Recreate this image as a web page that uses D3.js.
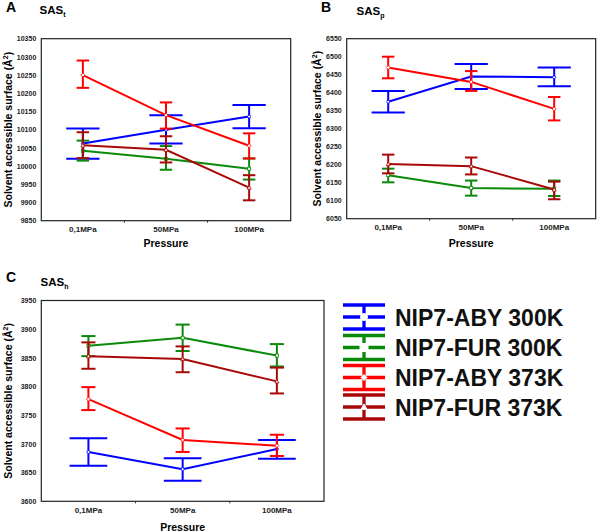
<!DOCTYPE html>
<html>
<head>
<meta charset="utf-8">
<script src="https://cdn.jsdelivr.net/npm/d3@7"></script>
<style>
  body { margin: 0; background: #fff; }
  svg { display: block; font-family: "Liberation Sans", Arial, sans-serif; }
</style>
</head>
<body>
<div id="chart"></div>
<script>
// categories and series
var pressures = ["0,1MPa", "50MPa", "100MPa"];
var seriesNames = ["NIP7-ABY 300K", "NIP7-FUR 300K", "NIP7-ABY 373K", "NIP7-FUR 373K"];
var seriesColors = ["#0000ff", "#0a8a0a", "#ff0000", "#a80808"];
var seriesMarkers = ["circle", "square", "diamond", "triangle"];

// panel A: SASt (mean, upper, lower), one row per series
var sasT_mean = [[10062, 10100, 10136], [10042, 10020, 9993], [10250, 10140, 10056], [10057, 10045, 9941]];
var sasT_hi   = [[10103, 10140, 10168], [10070, 10055, 10021], [10290, 10175, 10090], [10093, 10082, 9975]];
var sasT_lo   = [[10020, 10062, 10104], [10015, 9990, 9963], [10215, 10103, 10021], [10022, 10010, 9906]];
var sasT_ticks = [9850, 9900, 9950, 10000, 10050, 10100, 10150, 10200, 10250, 10300, 10350];

// panel B: SASp
var sasP_mean = [[6375, 6445, 6443], [6171, 6135, 6133], [6470, 6430, 6355], [6202, 6196, 6131]];
var sasP_hi   = [[6405, 6480, 6470], [6189, 6156, 6156], [6500, 6460, 6388], [6228, 6220, 6153]];
var sasP_lo   = [[6345, 6410, 6418], [6151, 6114, 6113], [6440, 6405, 6323], [6176, 6173, 6104]];
var sasP_ticks = [6050, 6100, 6150, 6200, 6250, 6300, 6350, 6400, 6450, 6500, 6550];

// panel C: SASh
var sasH_mean = [[3686, 3656, 3691], [3871, 3885, 3854], [3778, 3707, 3697], [3853, 3848, 3809]];
var sasH_hi   = [[3710, 3675, 3707], [3888, 3908, 3874], [3799, 3727, 3716], [3877, 3870, 3833]];
var sasH_lo   = [[3662, 3636, 3674], [3853, 3862, 3835], [3759, 3686, 3679], [3831, 3825, 3788]];
var sasH_ticks = [3600, 3650, 3700, 3750, 3800, 3850, 3900, 3950];

var svg = d3.select("#chart")
  .append("svg")
  .attr("width", 600)
  .attr("height", 532);

function marker(g, type, x, y, s, color, sw) {
  if (type == "circle") {
    g.append("circle").attr("cx", x).attr("cy", y).attr("r", s / 2)
      .attr("fill", "#fff").attr("stroke", color).attr("stroke-width", sw);
  } else if (type == "square") {
    g.append("rect").attr("x", x - s / 2).attr("y", y - s / 2).attr("width", s).attr("height", s)
      .attr("fill", "#fff").attr("stroke", color).attr("stroke-width", sw);
  } else if (type == "diamond") {
    var h = s / 2 + 0.5;
    g.append("path").attr("d", "M" + x + "," + (y - h) + "L" + (x + h) + "," + y + "L" + x + "," + (y + h) + "L" + (x - h) + "," + y + "Z")
      .attr("fill", "#fff").attr("stroke", color).attr("stroke-width", sw);
  } else {
    var h2 = s / 2 + 0.5;
    g.append("path").attr("d", "M" + x + "," + (y - h2) + "L" + (x + h2) + "," + (y + h2 * 0.8) + "L" + (x - h2) + "," + (y + h2 * 0.8) + "Z")
      .attr("fill", "#fff").attr("stroke", color).attr("stroke-width", sw);
  }
}

function drawPanel(p) {
  var g = svg.append("g");

  var x = d3.scaleBand().domain(pressures).range([p.left, p.right]).padding(0);
  var y = d3.scaleLinear().domain([p.ticks[0], p.ticks[p.ticks.length - 1]]).range([p.bottom, p.top]);

  // letter and title
  g.append("text").attr("x", p.letterX).attr("y", p.letterY)
    .style("font-size", "14px").style("font-weight", "bold").text(p.letter);
  var t = g.append("text").attr("x", p.titleX).attr("y", p.titleY)
    .style("font-size", "11.5px").style("font-weight", "bold");
  t.append("tspan").text("SAS");
  t.append("tspan").attr("dy", 3).style("font-size", "7px").text(p.sub);

  // y axis
  var yAxis = d3.axisLeft(y).tickValues(p.ticks).tickFormat(d3.format("d")).tickSize(0).tickPadding(5);
  var ya = g.append("g").attr("transform", "translate(" + p.left + ",0)").call(yAxis);
  ya.select(".domain").remove();
  ya.selectAll("text").style("font-size", "7px").style("font-weight", "bold")
    .style("font-family", "'Liberation Sans', Arial, sans-serif").attr("fill", "#222");

  // x axis labels at band centers, small ticks at band edges
  var xAxis = d3.axisBottom(x).tickSize(0).tickPadding(0);
  var xa = g.append("g").attr("transform", "translate(0," + p.bottom + ")").call(xAxis);
  xa.select(".domain").remove();
  xa.selectAll("text").attr("dy", null).attr("y", p.xLabelY - p.bottom)
    .style("font-size", "8px").style("font-weight", "bold")
    .style("font-family", "'Liberation Sans', Arial, sans-serif").attr("fill", "#222");
  pressures.slice(1).forEach(function (d) {
    g.append("line").attr("x1", x(d)).attr("x2", x(d))
      .attr("y1", p.bottom).attr("y2", p.bottom + 2)
      .attr("stroke", "#333").attr("stroke-width", 1);
  });

  // frame
  g.append("rect").attr("x", p.left).attr("y", p.top)
    .attr("width", p.right - p.left).attr("height", p.bottom - p.top)
    .attr("fill", "none").attr("stroke", "#222").attr("stroke-width", 1.2);

  // axis titles
  g.append("text").attr("x", (p.left + p.right) / 2).attr("y", p.pressY)
    .attr("text-anchor", "middle").style("font-size", "10.5px").style("font-weight", "bold")
    .text("Pressure");
  var yl = g.append("text")
    .attr("transform", "translate(" + p.yTitleX + "," + ((p.top + p.bottom) / 2) + ") rotate(-90)")
    .attr("text-anchor", "middle").style("font-size", "10.5px").style("font-weight", "bold");
  yl.append("tspan").text("Solvent accessible surface (Å");
  yl.append("tspan").attr("dy", -4).style("font-size", "7px").text("2");
  yl.append("tspan").attr("dy", 4).text(")");

  // series
  var cx = function (d) { return x(d) + x.bandwidth() / 2; };
  seriesNames.forEach(function (name, i) {
    var color = seriesColors[i];
    var capW = (i == 0 ? 0.4 : 0.15) * x.bandwidth();
    var pts = pressures.map(function (d, j) { return [cx(d), y(p.mean[i][j])]; });

    pressures.forEach(function (d, j) {
      var xc = cx(d);
      g.append("line").attr("x1", xc).attr("x2", xc)
        .attr("y1", y(p.hi[i][j])).attr("y2", y(p.lo[i][j]))
        .attr("stroke", color).attr("stroke-width", 2);
      [p.hi[i][j], p.lo[i][j]].forEach(function (v) {
        g.append("line").attr("x1", xc - capW / 2).attr("x2", xc + capW / 2)
          .attr("y1", y(v)).attr("y2", y(v))
          .attr("stroke", color).attr("stroke-width", 2);
      });
    });

    g.append("path").attr("d", d3.line()(pts))
      .attr("fill", "none").attr("stroke", color).attr("stroke-width", 2);

    pts.forEach(function (pt) {
      marker(g, seriesMarkers[i], pt[0], pt[1], 3, color, 0.8);
    });
  });
}

drawPanel({
  letter: "A", sub: "t", left: 41.3, right: 290.7, top: 38.7, bottom: 220.7,
  ticks: sasT_ticks, mean: sasT_mean, hi: sasT_hi, lo: sasT_lo,
  letterX: 6, letterY: 12, titleX: 39.5, titleY: 13.5,
  xLabelY: 232, pressY: 246.5, yTitleX: 11.5
});

drawPanel({
  letter: "B", sub: "p", left: 346.7, right: 595.7, top: 38.7, bottom: 218.7,
  ticks: sasP_ticks, mean: sasP_mean, hi: sasP_hi, lo: sasP_lo,
  letterX: 321, letterY: 11.5, titleX: 356.5, titleY: 15,
  xLabelY: 230, pressY: 246.5, yTitleX: 320.5
});

drawPanel({
  letter: "C", sub: "h", left: 41.3, right: 324, top: 300.5, bottom: 501.3,
  ticks: sasH_ticks, mean: sasH_mean, hi: sasH_hi, lo: sasH_lo,
  letterX: 6, letterY: 282, titleX: 40.5, titleY: 286,
  xLabelY: 513, pressY: 531, yTitleX: 11.5
});

// legend
var legend = svg.append("g");
var legY = [317, 347.5, 377.5, 407];
seriesNames.forEach(function (name, i) {
  var color = seriesColors[i];
  var cy = legY[i], x0 = 343, x1 = 385, xm = 364;
  legend.append("line").attr("x1", x0).attr("x2", x1).attr("y1", cy - 12).attr("y2", cy - 12)
    .attr("stroke", color).attr("stroke-width", 3.3);
  legend.append("line").attr("x1", x0).attr("x2", x1).attr("y1", cy + 12).attr("y2", cy + 12)
    .attr("stroke", color).attr("stroke-width", 3.3);
  legend.append("line").attr("x1", x0).attr("x2", x1).attr("y1", cy).attr("y2", cy)
    .attr("stroke", color).attr("stroke-width", 3.3);
  legend.append("line").attr("x1", xm).attr("x2", xm).attr("y1", cy - 12).attr("y2", cy + 12)
    .attr("stroke", color).attr("stroke-width", 3.3);
  var ms = i == 0 ? 7 : (i == 1 ? 8 : 5);
  marker(legend, seriesMarkers[i], xm, cy, ms, "#fff", 1);
  legend.append("text").attr("x", 395).attr("y", cy + 8.5)
    .style("font-size", "23px").style("font-weight", "bold").attr("fill", "#111")
    .text(name);
});
</script>
</body>
</html>
